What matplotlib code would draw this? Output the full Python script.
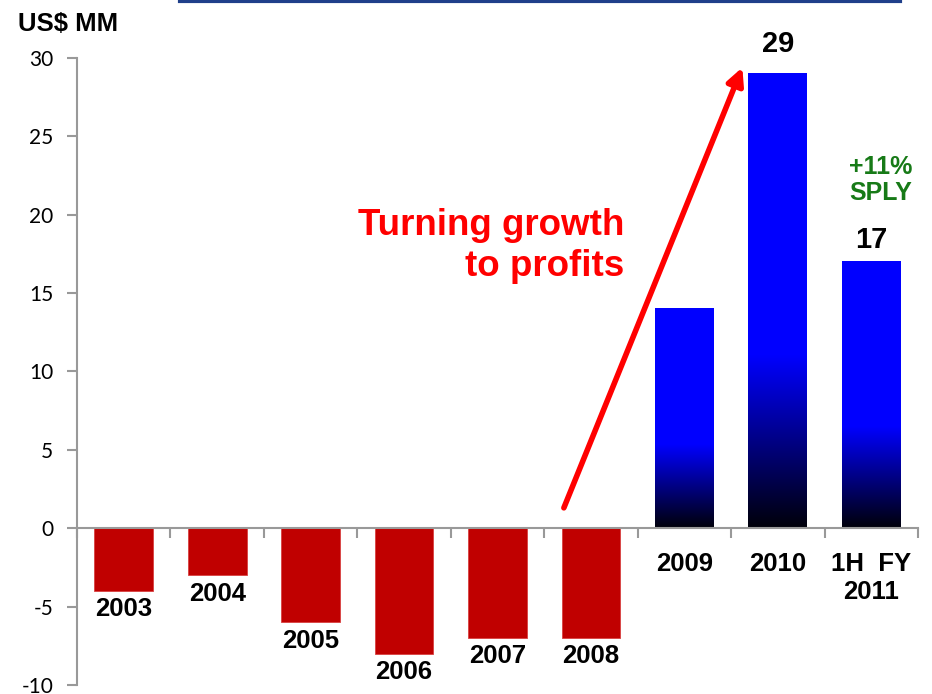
import numpy as np
import matplotlib.pyplot as plt
from matplotlib.lines import Line2D

# --- Datos -----------------------------------------------------------------------------
categorias = ["2003", "2004", "2005", "2006", "2007", "2008", "2009", "2010", "1H  FY\n2011"]
valores = [-4, -3, -6, -8, -7, -7, 14, 29, 17]
etiquetas_valor = {7: "29", 8: "17"}
y_ticks = [-10, -5, 0, 5, 10, 15, 20, 25, 30]

rojo = "#C00000"
ancho = 0.63

fig = plt.figure(figsize=(9.32, 6.94), dpi=100)
ax = fig.add_axes([0.0826, 0.013, 0.9024, 0.9034])

x = np.arange(len(valores))

# Barras negativas (rojas) y positivas (gradiente azul -> negro)
for xi, v in zip(x, valores):
    if v < 0:
        ax.bar(xi, v, width=ancho, color=rojo, edgecolor="#d84040", linewidth=0.6, zorder=2)
    else:
        n = 256
        t = np.linspace(0, 1, n)
        b = np.clip(t / 0.38, 0, 1)            # negro abajo, azul desde ~38% de la barra
        grad = np.zeros((n, 1, 3))
        grad[:, 0, 2] = 0.04 + 0.96 * b
        ax.imshow(grad, extent=[xi - ancho / 2, xi + ancho / 2, 0, v], origin="lower",
                  aspect="auto", interpolation="bilinear", zorder=2)

ax.set_xlim(-0.5, len(valores) - 0.5)
ax.set_ylim(-10, 30)

# Ejes
gris = "#999999"
for s in ["top", "right"]:
    ax.spines[s].set_visible(False)
ax.spines["left"].set_color(gris)
ax.spines["left"].set_linewidth(1.5)
ax.spines["bottom"].set_position(("data", 0))
ax.spines["bottom"].set_color(gris)
ax.spines["bottom"].set_linewidth(1.5)
ax.set_xticks(np.arange(-0.5, len(valores), 1.0))
ax.set_xticklabels([])
ax.tick_params(axis="x", direction="out", length=7, width=1.5, color=gris)
ax.set_yticks(y_ticks)
ax.set_yticklabels([str(t) for t in y_ticks], fontfamily="Lato", fontsize=15)
ax.tick_params(axis="y", direction="out", length=7, width=1.5, color=gris, pad=10)

# Etiquetas de categoría
for xi, v, c in zip(x, valores, categorias):
    y = v - 0.4 if v < 0 else -1.5
    ax.text(xi, y, c, ha="center", va="top", fontsize=18.5, fontweight="bold",
            family="Liberation Sans", linespacing=1.25, zorder=3)

# Valores sobre las barras
offsets = {7: 1.0, 8: 0.5}
for i, txt in etiquetas_valor.items():
    ax.text(x[i], valores[i] + offsets[i], txt, ha="center", va="bottom", fontsize=21,
            fontweight="bold", family="Liberation Sans")

ax.text(8.1, 20.6, "+11%\nSPLY", ha="center", va="bottom", fontsize=18, fontweight="bold",
        family="Liberation Sans", color="#177a17", linespacing=1.15)

ax.text(5.36, 15.6, "Turning growth\nto profits", ha="right", va="bottom", fontsize=26.5,
        fontweight="bold", family="Liberation Sans", color="#FF0000", linespacing=1.2)

# Flecha roja
ax.annotate("", xy=(6.62, 29.4), xytext=(4.71, 1.3),
            arrowprops=dict(arrowstyle="-|>,head_length=1.0,head_width=0.5",
                            color="#FF0000", lw=4, shrinkA=0, shrinkB=0))

# Título / unidad
fig.text(0.019, 0.955, "US$ MM", fontsize=18.5, fontweight="bold", family="Liberation Sans")

# Línea azul superior
fig.add_artist(Line2D([180 / 932, 900 / 932], [0.998, 0.998], color="#1F3F8A", lw=3))

fig.savefig("out.png", dpi=100)
